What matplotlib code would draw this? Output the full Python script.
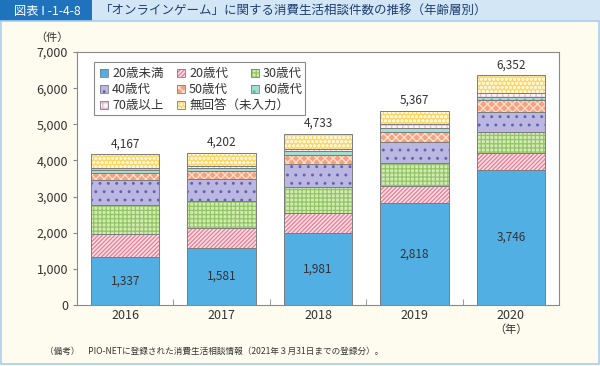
import matplotlib
matplotlib.use("Agg")
import matplotlib.pyplot as plt
from matplotlib.patches import Rectangle
import numpy as np

plt.rcParams["font.family"] = ["Noto Sans CJK JP", "DejaVu Sans"]
plt.rcParams["hatch.linewidth"] = 0.9

years = ["2016", "2017", "2018", "2019", "2020"]
age_groups = ["20歳未満", "20歳代", "30歳代", "40歳代", "50歳代", "60歳代", "70歳以上", "無回答（未入力）"]

# values (only the totals and the under-20 counts are printed)
under20 = [1337, 1581, 1981, 2818, 3746]
age20s = [627, 550, 566, 487, 468]
age30s = [794, 738, 722, 611, 564]
age40s = [695, 623, 620, 592, 571]
age50s = [205, 211, 258, 278, 323]
age60s = [64, 75, 111, 120, 92]
age70plus = [56, 64, 67, 111, 94]
totals = [4167, 4202, 4733, 5367, 6352]
no_answer = [t - sum(v) for t, v in zip(totals, zip(under20, age20s, age30s, age40s, age50s, age60s, age70plus))]

series = [under20, age20s, age30s, age40s, age50s, age60s, age70plus, no_answer]

# face colour, hatch colour, hatch
styles = [
    ("#52afe4", "#52afe4", None),
    ("#fbe0e6", "#ec7a92", "////////"),
    ("#d2ebb4", "#93c567", "++++"),
    ("#bcb7e0", "#5d63b5", ".."),
    ("#f7a27e", "#fde2d4", "xxxx"),
    ("#a3dcd2", "#5bb8a9", ".."),
    ("#fdf4f8", "#e2b9cf", "+++"),
    ("#fdd66a", "#fff6d6", "oooo"),
]

fig = plt.figure(figsize=(6.0, 3.66), dpi=100)
fig.patch.set_facecolor("#fefcee")


def px(xp, yp):
    return xp / 600, 1 - yp / 366


# header bar
fig.patches.append(Rectangle((0, 1 - 21 / 366), 1, 21 / 366, transform=fig.transFigure,
                             facecolor="#d3e6f5", edgecolor="none", zorder=0))
fig.patches.append(Rectangle((0, 1 - 21 / 366), 92 / 600, 21 / 366, transform=fig.transFigure,
                             facecolor="#1f73bd", edgecolor="none", zorder=1))
# frame
fig.patches.append(Rectangle((0.002, 0.006), 0.996, 1 - 21 / 366 - 0.006, transform=fig.transFigure,
                             facecolor="none", edgecolor="#a9cfee", linewidth=1.2, zorder=1))
fig.text(*px(47, 11), "図表 I -1-4-8", color="white", fontsize=8.8, ha="center", va="center")
fig.text(*px(100, 11), "「オンラインゲーム」に関する消費生活相談件数の推移（年齢層別）",
         color="#1f3f73", fontsize=9, ha="left", va="center")

ax = fig.add_axes([77 / 600, 1 - 305 / 366, 482 / 600, 253 / 366])
ax.set_facecolor("white")

x = np.arange(len(years))
width = 0.71
bottom = np.zeros(len(years))
for vals, (fc, hc, h) in zip(series, styles):
    ax.bar(x, vals, width, bottom=bottom, color=fc, edgecolor=hc, hatch=h, linewidth=0, zorder=2)
    ax.bar(x, vals, width, bottom=bottom, fill=False, edgecolor="#7d7d7d", linewidth=0.7, zorder=3)
    bottom += np.array(vals)

for i in range(len(years)):
    ax.annotate(f"{totals[i]:,}", (x[i], totals[i]), xytext=(0, 3), textcoords="offset points",
                ha="center", va="bottom", fontsize=8.5, color="#333333")
    ax.text(x[i], under20[i] / 2, f"{under20[i]:,}", ha="center", va="center",
            fontsize=8.5, color="#333333", zorder=4)

ax.set_xlim(-0.5, 4.5)
ax.set_ylim(0, 7000)
ax.set_yticks(range(0, 7001, 1000))
ax.set_yticklabels([f"{v:,}" for v in range(0, 7001, 1000)])
ax.set_xticks(x)
ax.set_xticklabels(years)
ax.set_xticks(np.arange(0.5, 4.5, 1), minor=True)
ax.tick_params(axis="x", which="major", length=0, pad=3, labelsize=9, labelcolor="#333333")
ax.tick_params(axis="x", which="minor", direction="in", length=4, color="#888888")
ax.tick_params(axis="y", length=3, color="#888888", labelsize=9, labelcolor="#333333")
for s in ax.spines.values():
    s.set_color("#8a8a8a")
    s.set_linewidth(0.8)

fig.text(*px(52, 38), "（件）", fontsize=8, color="#333333", ha="center", va="center")
fig.text(*px(511, 330), "（年）", fontsize=8, color="#333333", ha="center", va="center")

# legend drawn by hand so that the third column can sit inside the long last label
fig.patches.append(Rectangle(px(94, 115), 211 / 600, 53 / 366, transform=fig.transFigure,
                             facecolor="white", edgecolor="#8a8a8a", linewidth=0.8, zorder=5))
col_x = [100, 177, 251]
row_y = [73, 89, 105]
hs = 8
for k, (name, (fc, hc, h)) in enumerate(zip(age_groups, styles)):
    r, c = divmod(k, 3)
    hx, hy = col_x[c], row_y[r]
    fig.patches.append(Rectangle(px(hx, hy + hs / 2), hs / 600, hs / 366, transform=fig.transFigure,
                                 facecolor=fc, edgecolor=hc, hatch=h, linewidth=0, zorder=6))
    fig.patches.append(Rectangle(px(hx, hy + hs / 2), hs / 600, hs / 366, transform=fig.transFigure,
                                 fill=False, edgecolor="#7d7d7d", linewidth=0.6, zorder=7))
    fig.text(*px(hx + hs + 4, hy), name, fontsize=9, color="#333333",
             ha="left", va="center", zorder=7)

fig.text(*px(45, 351),
         "（備考）　PIO-NETに登録された消費生活相談情報（2021年３月31日までの登録分）。",
         fontsize=6.2, color="#333333", ha="left", va="center")

fig.savefig("out.png", dpi=100, facecolor=fig.get_facecolor())
